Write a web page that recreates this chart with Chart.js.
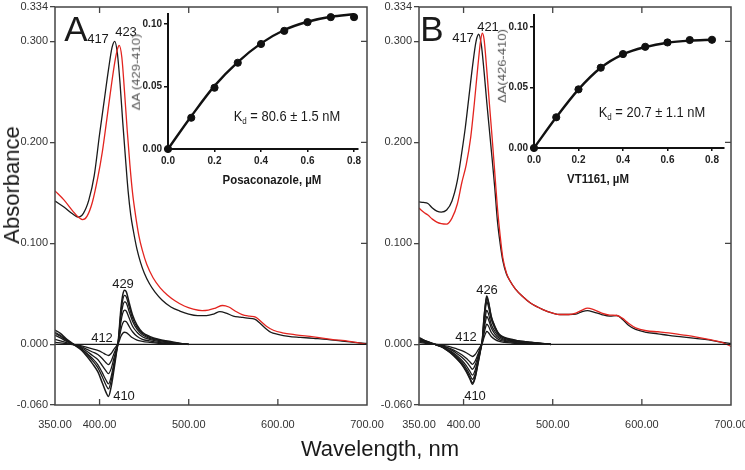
<!DOCTYPE html>
<html><head><meta charset="utf-8">
<script src="https://cdn.jsdelivr.net/npm/chart.js@4.4.1/dist/chart.umd.min.js"></script>
<style>
html,body{margin:0;padding:0;background:#fff;}
#wrap{position:relative;width:745px;height:470px;overflow:hidden;font-family:"Liberation Sans",Arial,sans-serif;color:#1a1a1a;background:#fff;}
canvas{position:absolute;}
.t{position:absolute;white-space:nowrap;transform:translate(-50%,-50%);line-height:1;}
.lbl{font-size:13px;}
.big{font-size:35px;}
.kd{font-size:15px;transform:translate(-50%,-50%) scaleX(0.86);}
.kd .s{font-size:0.62em;position:relative;top:0.3em;}
.ins{font-size:13px;font-weight:bold;transform:translate(-50%,-50%) scaleX(0.88);}
.insy{font-size:13px;color:#555;transform:translate(-50%,-50%) rotate(-90deg) scaleY(0.82);}
</style></head><body>
<div id="wrap">
<canvas id="mainA" width="400" height="440" style="left:0;top:0"></canvas>
<canvas id="mainB" width="380" height="440" style="left:365px;top:0"></canvas>
<canvas id="insetA" width="250" height="170" style="left:120px;top:0"></canvas>
<canvas id="insetB" width="255" height="170" style="left:485px;top:0"></canvas>

<div class="t big" style="left:76px;top:28px">A</div>
<div class="t big" style="left:432px;top:28px">B</div>
<div class="t lbl" style="left:98px;top:38px">417</div>
<div class="t lbl" style="left:126px;top:31px">423</div>
<div class="t lbl" style="left:463px;top:37px">417</div>
<div class="t lbl" style="left:488px;top:26px">421</div>
<div class="t lbl" style="left:123px;top:283px">429</div>
<div class="t lbl" style="left:102px;top:337px">412</div>
<div class="t lbl" style="left:124px;top:395px">410</div>
<div class="t lbl" style="left:487px;top:289px">426</div>
<div class="t lbl" style="left:466px;top:336px">412</div>
<div class="t lbl" style="left:475px;top:395px">410</div>
<div class="t" style="left:12px;top:185px;font-size:22px;transform:translate(-50%,-50%) rotate(-90deg)">Absorbance</div>
<div class="t" style="left:380px;top:449px;font-size:22px">Wavelength, nm</div>
<div class="t insy" style="left:136px;top:72px">ΔA (429-410)</div>
<div class="t insy" style="left:502px;top:66px">ΔA(426-410)</div>
<div class="t ins" style="left:272px;top:179px">Posaconazole, µM</div>
<div class="t ins" style="left:598px;top:178px">VT1161, µM</div>
<div class="t kd" style="left:287px;top:116px">K<span class="s">d</span> = 80.6 ± 1.5 nM</div>
<div class="t kd" style="left:652px;top:112px">K<span class="s">d</span> = 20.7 ± 1.1 nM</div>
</div>
<script>
// ---------- tick labels ----------
const wavelengthTicks = [350, 400, 500, 600, 700];
const absorbanceTicks = [-0.06, 0, 0.1, 0.2, 0.3, 0.334];
const innerWlTicks = [400, 500, 600];
const innerAbsTicks = [0.1, 0.2, 0.3];
const insetXTicks = [0, 0.2, 0.4, 0.6, 0.8];
const insetYTicks = [0, 0.05, 0.10];

// ---------- baseline ----------
const baselineWl = [350, 700];
const baselineAbs = [0, 0];

// ---------- Panel A absolute spectra ----------
const wlA_free = [350,360,370,376,382,388,394,400,405,410,414,417,420,423,426,429,432,435,438,442,446,450,456,462,470,480,490,500,510,520,528,535,542,550,558,566,574,580,586,592,600,612,625,640,655,670,685,700];
const absA_free = [0.142,0.136,0.129,0.126,0.130,0.143,0.167,0.208,0.240,0.272,0.294,0.300,0.288,0.258,0.220,0.185,0.152,0.128,0.112,0.094,0.081,0.071,0.060,0.052,0.044,0.037,0.033,0.030,0.0285,0.0285,0.030,0.0325,0.031,0.028,0.027,0.026,0.025,0.021,0.016,0.012,0.010,0.008,0.007,0.006,0.005,0.0035,0.002,0.001];
const wlA_bound = [350,360,370,376,381,386,392,398,403,408,413,417,420,422,425,428,431,434,437,440,444,448,453,460,468,476,485,495,505,515,522,530,538,545,552,560,568,575,582,588,595,605,620,640,660,680,700];
const absA_bound = [0.152,0.143,0.132,0.126,0.1235,0.127,0.141,0.165,0.190,0.222,0.255,0.279,0.292,0.296,0.284,0.250,0.212,0.178,0.150,0.130,0.108,0.093,0.079,0.066,0.056,0.049,0.043,0.038,0.035,0.0335,0.034,0.036,0.0385,0.037,0.033,0.0295,0.028,0.027,0.022,0.0175,0.014,0.0115,0.0095,0.0075,0.005,0.003,0.000];

// ---------- Panel A difference spectra ----------
const wlA_diff = [350,356,362,368,374,380,386,392,398,403,407,410,413,416,419,421,424,426,428,430,433,437,442,448,456,466,478,490,500];
const diffA1 = [0.002,0.0015,0.001,0.0,-0.0005,-0.0015,-0.003,-0.0045,-0.006,-0.008,-0.010,-0.011,-0.009,-0.005,-0.0015,0.001,0.008,0.011,0.012,0.0117,0.0095,0.0065,0.0042,0.003,0.002,0.001,0.0005,0.0,0.0];
const diffA2 = [0.005,0.0035,0.002,0.0005,-0.001,-0.0025,-0.005,-0.0075,-0.010,-0.014,-0.018,-0.020,-0.0165,-0.0095,-0.003,0.0015,0.015,0.021,0.023,0.0225,0.018,0.0125,0.008,0.005,0.0035,0.002,0.001,0.0005,0.0];
const diffA3 = [0.009,0.0065,0.0035,0.001,-0.001,-0.0035,-0.007,-0.011,-0.015,-0.021,-0.026,-0.029,-0.024,-0.014,-0.004,0.002,0.0225,0.031,0.034,0.033,0.0265,0.018,0.012,0.0075,0.005,0.003,0.0015,0.0005,0.0];
const diffA4 = [0.011,0.008,0.0045,0.001,-0.0015,-0.0045,-0.009,-0.014,-0.020,-0.028,-0.035,-0.039,-0.032,-0.019,-0.006,0.003,0.028,0.038,0.042,0.041,0.033,0.023,0.015,0.0095,0.006,0.004,0.002,0.001,0.0];
const diffA5 = [0.012,0.009,0.005,0.0015,-0.0015,-0.005,-0.010,-0.016,-0.023,-0.032,-0.040,-0.044,-0.036,-0.022,-0.007,0.003,0.032,0.044,0.0485,0.047,0.038,0.026,0.017,0.011,0.007,0.0045,0.0025,0.001,0.0];
const diffA6 = [0.014,0.011,0.006,0.002,-0.002,-0.006,-0.012,-0.019,-0.027,-0.038,-0.047,-0.0515,-0.042,-0.026,-0.008,0.004,0.036,0.049,0.0535,0.052,0.042,0.029,0.019,0.012,0.008,0.005,0.003,0.001,0.000];

// ---------- Panel B absolute spectra ----------
const wlB_free = [350,355,360,365,370,375,381,387,393,398,402,406,410,414,417,420,423,426,429,432,435,438,441,444,448,452,458,466,475,489,500,508,518,526,533,539,546,555,564,572,578,585,593,605,618,630,645,660,675,690,700];
const absB_free = [0.141,0.1405,0.1395,0.135,0.132,0.131,0.133,0.142,0.162,0.190,0.215,0.245,0.275,0.300,0.307,0.296,0.270,0.240,0.212,0.184,0.155,0.122,0.100,0.083,0.070,0.063,0.055,0.0476,0.041,0.0345,0.031,0.0296,0.0296,0.030,0.0325,0.0335,0.032,0.0295,0.028,0.0286,0.025,0.019,0.0148,0.012,0.0105,0.0089,0.0075,0.006,0.0045,0.002,0.001];
const wlB_bound = [350,355,360,365,370,375,381,387,393,398,403,408,412,416,419,421,423,426,429,432,435,438,441,444,448,452,458,466,475,489,500,508,518,526,533,539,546,555,564,572,578,585,593,605,618,630,645,660,675,690,700];
const absB_bound = [0.135,0.131,0.128,0.124,0.121,0.1195,0.119,0.125,0.139,0.160,0.178,0.205,0.238,0.275,0.300,0.308,0.302,0.272,0.238,0.205,0.170,0.135,0.108,0.086,0.071,0.063,0.055,0.0476,0.041,0.0345,0.031,0.0296,0.0296,0.031,0.034,0.036,0.0345,0.031,0.029,0.0286,0.026,0.021,0.0164,0.0135,0.0125,0.0115,0.0095,0.0075,0.005,0.002,-0.002];

// ---------- Panel B difference spectra ----------
const wlB_diff = [350,356,362,368,374,380,386,392,398,403,407,410,413,416,419,421,423,425,426,428,431,435,440,446,454,464,476,488,498];
const diffB1 = [0.002,0.0013,0.0005,0.0,-0.0006,-0.0015,-0.0027,-0.0043,-0.0062,-0.0083,-0.0105,-0.012,-0.010,-0.006,-0.0018,0.0012,0.007,0.0115,0.0128,0.0115,0.0078,0.005,0.003,0.002,0.0014,0.001,0.0006,0.0003,0.0];
const diffB2 = [0.003,0.002,0.0008,0.0,-0.001,-0.0024,-0.0044,-0.007,-0.0102,-0.0137,-0.0172,-0.0197,-0.0165,-0.010,-0.003,0.002,0.011,0.018,0.0201,0.018,0.012,0.0078,0.0045,0.003,0.0022,0.0015,0.001,0.0005,0.0];
const diffB3 = [0.0035,0.0025,0.001,0.0,-0.0013,-0.003,-0.0055,-0.0087,-0.0127,-0.017,-0.0215,-0.0246,-0.0205,-0.0125,-0.0035,0.0025,0.015,0.0245,0.0276,0.0245,0.0165,0.0105,0.006,0.004,0.003,0.002,0.0012,0.0006,0.0];
const diffB4 = [0.004,0.003,0.0012,0.0,-0.0016,-0.0038,-0.0069,-0.0108,-0.0157,-0.021,-0.0265,-0.0305,-0.0255,-0.0155,-0.0045,0.003,0.019,0.0305,0.034,0.030,0.020,0.013,0.0075,0.005,0.0035,0.0023,0.0014,0.0007,0.0];
const diffB5 = [0.005,0.0035,0.0015,0.0,-0.0018,-0.0043,-0.0078,-0.0122,-0.0177,-0.0237,-0.030,-0.0345,-0.029,-0.0175,-0.005,0.0035,0.0235,0.038,0.0424,0.037,0.025,0.016,0.009,0.006,0.004,0.0027,0.0016,0.0008,0.0];
const diffB6 = [0.006,0.004,0.0018,0.0,-0.002,-0.0048,-0.0085,-0.0135,-0.0195,-0.026,-0.033,-0.038,-0.032,-0.019,-0.0055,0.004,0.026,0.042,0.0465,0.041,0.027,0.0175,0.0095,0.0065,0.0045,0.003,0.0018,0.001,0.0];
const diffB7 = [0.007,0.004,0.002,0.0,-0.002,-0.005,-0.009,-0.014,-0.020,-0.027,-0.034,-0.0394,-0.033,-0.020,-0.006,0.004,0.027,0.043,0.0478,0.042,0.028,0.018,0.010,0.007,0.005,0.003,0.002,0.001,0.0];

// ---------- Insets: titration ----------
const posaConc = [0,0.1,0.2,0.3,0.4,0.5,0.6,0.7,0.8];
const posaDeltaA = [0,0.025,0.049,0.069,0.084,0.0945,0.1015,0.1055,0.1055];
const posaFit = [0,0.0262,0.0505,0.0695,0.0845,0.0952,0.1018,0.1058,0.1078];
const vtConc = [0,0.1,0.2,0.3,0.4,0.5,0.6,0.7,0.8];
const vtDeltaA = [0,0.0254,0.0485,0.0664,0.0777,0.0837,0.0873,0.0893,0.0895];
const vtFit = [0,0.0254,0.0485,0.0664,0.0775,0.0835,0.0871,0.0888,0.0895];

// ---------- helpers ----------
const FONT = '"Liberation Sans", Arial, sans-serif';
Chart.defaults.font.family = FONT;
const BLACK = '#1a1a1a', RED = '#e3241f';

function pts(xs, ys){ return xs.map((x,i)=>({x:x, y:ys[i]})); }
function line(xs, ys, color, width){
  return {data: pts(xs, ys), borderColor: color, borderWidth: width, pointRadius: 0,
          cubicInterpolationMode: 'monotone', fill: false};
}

const framePlugin = {
  id: 'frame',
  afterDraw(chart){
    const {ctx, chartArea: a, scales} = chart;
    ctx.save();
    ctx.strokeStyle = '#444'; ctx.lineWidth = 1.5;
    ctx.strokeRect(a.left, a.top, a.right - a.left, a.bottom - a.top);
    ctx.lineWidth = 1.3;
    ctx.beginPath();
    innerWlTicks.forEach(v => {
      const x = scales.x.getPixelForValue(v);
      ctx.moveTo(x, a.top); ctx.lineTo(x, a.top + 6);
      ctx.moveTo(x, a.bottom); ctx.lineTo(x, a.bottom - 6);
    });
    innerAbsTicks.forEach(v => {
      const y = scales.y.getPixelForValue(v);
      ctx.moveTo(a.right, y); ctx.lineTo(a.right - 6, y);
    });
    ctx.stroke();
    ctx.restore();
  }
};

function mainChart(id, datasets, yWidth, padRight){
  return new Chart(document.getElementById(id), {
    type: 'line',
    data: {datasets},
    plugins: [framePlugin],
    options: {
      responsive: false, animation: false, devicePixelRatio: 1,
      layout: {padding: {left: 0, top: 7, right: padRight, bottom: 0}},
      plugins: {legend: {display: false}, tooltip: {enabled: false}},
      scales: {
        x: {type: 'linear', min: 350, max: 700,
            afterBuildTicks: s => { s.ticks = wavelengthTicks.map(v => ({value: v})); },
            ticks: {callback: v => Number(v).toFixed(2), font: {size: 11}, color: '#333', padding: 13, maxRotation: 0, autoSkip: false},
            grid: {display: false, drawTicks: false}, border: {display: false},
            afterFit: s => { s.height = 35; s.paddingLeft = 0; s.paddingRight = 0; }},
        y: {type: 'linear', min: -0.06, max: 0.334,
            afterBuildTicks: s => { s.ticks = absorbanceTicks.map(v => ({value: v})); },
            ticks: {callback: v => Number(v).toFixed(3), font: {size: 11}, color: '#333', padding: 2, autoSkip: false},
            grid: {drawOnChartArea: false, drawTicks: true, tickLength: 5, color: '#444', lineWidth: 1.3},
            border: {display: false},
            afterFit: s => { s.width = yWidth; s.paddingTop = 0; s.paddingBottom = 0; }}
      }
    }
  });
}

function insetChart(id, conc, dA, fit, xMax, yMax, yWidth, padTop, padRight, xHeight){
  return new Chart(document.getElementById(id), {
    type: 'line',
    data: {datasets: [
      {data: pts(conc, fit), borderColor: '#111', borderWidth: 2.4, pointRadius: 0, cubicInterpolationMode: 'monotone', fill: false, clip: false},
      {data: pts(conc, dA), showLine: false, pointRadius: 3.6, pointBackgroundColor: '#111', pointBorderColor: '#111', clip: false}
    ]},
    options: {
      responsive: false, animation: false, devicePixelRatio: 1,
      layout: {padding: {left: 0, top: padTop, right: padRight, bottom: 0}},
      plugins: {legend: {display: false}, tooltip: {enabled: false}},
      scales: {
        x: {type: 'linear', min: 0, max: xMax,
            afterBuildTicks: s => { s.ticks = insetXTicks.map(v => ({value: v})); },
            ticks: {callback: v => Number(v).toFixed(1), font: {size: 10, weight: 'bold'}, color: '#222', padding: 3, maxRotation: 0, autoSkip: false},
            grid: {drawOnChartArea: false, tickLength: 3, color: '#111', lineWidth: 1.5},
            border: {display: true, color: '#111', width: 2},
            afterFit: s => { s.height = xHeight; s.paddingLeft = 0; s.paddingRight = 0; }},
        y: {type: 'linear', min: 0, max: yMax,
            afterBuildTicks: s => { s.ticks = insetYTicks.map(v => ({value: v})); },
            ticks: {callback: v => Number(v).toFixed(2), font: {size: 10, weight: 'bold'}, color: '#222', padding: 2, autoSkip: false},
            grid: {drawOnChartArea: false, tickLength: 4, color: '#111', lineWidth: 1.5},
            border: {display: true, color: '#111', width: 2},
            afterFit: s => { s.width = yWidth; s.paddingTop = 0; s.paddingBottom = 0; }}
      }
    }
  });
}

mainChart('mainA', [
  line(baselineWl, baselineAbs, BLACK, 1.2),
  line(wlA_diff, diffA1, BLACK, 1.3),
  line(wlA_diff, diffA2, BLACK, 1.3),
  line(wlA_diff, diffA3, BLACK, 1.3),
  line(wlA_diff, diffA4, BLACK, 1.3),
  line(wlA_diff, diffA5, BLACK, 1.3),
  line(wlA_diff, diffA6, BLACK, 1.5),
  line(wlA_bound, absA_bound, RED, 1.3),
  line(wlA_free, absA_free, BLACK, 1.3)
], 55, 33);

mainChart('mainB', [
  line(baselineWl, baselineAbs, BLACK, 1.2),
  line(wlB_diff, diffB1, BLACK, 1.3),
  line(wlB_diff, diffB2, BLACK, 1.3),
  line(wlB_diff, diffB3, BLACK, 1.3),
  line(wlB_diff, diffB4, BLACK, 1.3),
  line(wlB_diff, diffB5, BLACK, 1.3),
  line(wlB_diff, diffB6, BLACK, 1.5),
  line(wlB_diff, diffB7, BLACK, 1.5),
  line(wlB_bound, absB_bound, RED, 1.3),
  line(wlB_free, absB_free, BLACK, 1.3)
], 54, 14);

insetChart('insetA', posaConc, posaDeltaA, posaFit, 0.817, 0.108, 48, 14, 12, 21);
insetChart('insetB', vtConc, vtDeltaA, vtFit, 0.854, 0.11, 49, 15, 16, 22);
</script>
</body></html>
